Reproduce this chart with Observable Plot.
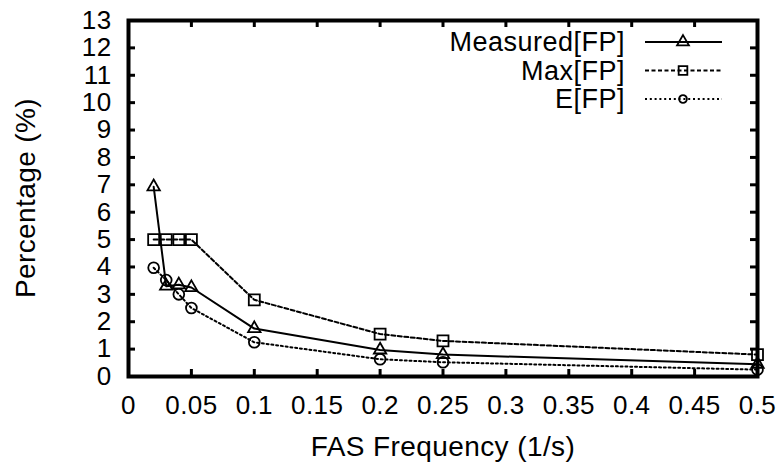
<!DOCTYPE html>
<html>
<head>
<meta charset="utf-8">
<script src="https://cdn.jsdelivr.net/npm/d3@7"></script>
<script src="https://cdn.jsdelivr.net/npm/@observablehq/plot@0.6"></script>
<style>
  html, body { margin: 0; padding: 0; background: #fff; }
  #chart { width: 784px; height: 468px; }
</style>
</head>
<body>
<div id="chart"></div>
<script>
// ---- data ----
const freq = [0.02, 0.03, 0.04, 0.05, 0.1, 0.2, 0.25, 0.5];
const measuredFP = [6.93, 3.3, 3.35, 3.25, 1.75, 0.97, 0.8, 0.45];
const maxFP = [5, 5, 5, 5, 2.8, 1.55, 1.3, 0.8];
const expectedFP = [3.97, 3.52, 3.0, 2.5, 1.25, 0.63, 0.52, 0.25];
const seriesNames = ["Measured[FP]", "Max[FP]", "E[FP]"];
const xTicks = [0, 0.05, 0.1, 0.15, 0.2, 0.25, 0.3, 0.35, 0.4, 0.45, 0.5];
const xTickLabels = ["0", "0.05", "0.1", "0.15", "0.2", "0.25", "0.3", "0.35", "0.4", "0.45", "0.5"];
const yTicks = [0, 1, 2, 3, 4, 5, 6, 7, 8, 9, 10, 11, 12, 13];
const yTickLabels = ["0", "1", "2", "3", "4", "5", "6", "7", "8", "9", "10", "11", "12", "13"];
const xLabel = "FAS Frequency (1/s)";
const yLabel = "Percentage (%)";

// ---- styles ----
const seriesValues = [measuredFP, maxFP, expectedFP];
const styles = [
  {dash: null, symbol: "triangle", r: 4.6, lr: 4.4},
  {dash: "4,2.5", symbol: "square", r: 6.2, lr: 4.9},
  {dash: "2,2.8", symbol: "circle", r: 5.4, lr: 3.9}
];
const rows = seriesNames.map((name, i) => freq.map((f, j) => ({series: name, idx: i, x: f, y: seriesValues[i][j]})));

const W = 784, H = 468, mL = 128, mR = 27, mT = 20, mB = 92;
const frameW = W - mL - mR, frameH = H - mT - mB;
const tickLen = 7;
const font = "'Liberation Sans', Arial, Helvetica, sans-serif";

function legendMark(index, scales, values, dim) {
  const g = d3.create("svg:g");
  const right = dim.width - dim.marginRight;
  seriesNames.forEach((name, i) => {
    const st = styles[i];
    const ly = dim.marginTop + 22 + i * 28.5;
    g.append("text")
      .attr("x", right - 132).attr("y", ly + 9)
      .attr("text-anchor", "end")
      .attr("font-size", 27).attr("letter-spacing", "0.5px")
      .attr("fill", "black")
      .text(name);
    g.append("line")
      .attr("x1", right - 112).attr("x2", right - 35)
      .attr("y1", ly).attr("y2", ly)
      .attr("stroke", "black").attr("stroke-width", 2)
      .attr("stroke-dasharray", st.dash);
    const symType = st.symbol === "triangle" ? d3.symbolTriangle : st.symbol === "square" ? d3.symbolSquare : d3.symbolCircle;
    g.append("path")
      .attr("transform", `translate(${right - 74},${ly})`)
      .attr("d", d3.symbol(symType, Math.PI * st.lr * st.lr)())
      .attr("fill", "none").attr("stroke", "black").attr("stroke-width", 1.8);
  });
  return g.node();
}

function yLabelMark(index, scales, values, dim) {
  const cy = dim.marginTop + (dim.height - dim.marginTop - dim.marginBottom) / 2;
  const cx = dim.marginLeft - 103;
  const t = d3.create("svg:text")
    .attr("transform", `translate(${cx},${cy}) rotate(-90)`)
    .attr("text-anchor", "middle")
    .attr("dy", "0.36em")
    .attr("font-size", 28)
    .attr("fill", "black")
    .text(yLabel);
  return t.node();
}

const marks = [];
// ticks (inward)
marks.push(Plot.tickX(xTicks, {x: d => d, insetTop: frameH - tickLen, stroke: "black", strokeWidth: 3}));
marks.push(Plot.tickX(xTicks, {x: d => d, insetBottom: frameH - tickLen, stroke: "black", strokeWidth: 3}));
marks.push(Plot.tickY(yTicks, {y: d => d, insetRight: frameW - tickLen, stroke: "black", strokeWidth: 3}));
marks.push(Plot.tickY(yTicks, {y: d => d, insetLeft: frameW - tickLen, stroke: "black", strokeWidth: 3}));
// tick labels
marks.push(Plot.text(xTicks, {x: d => d, text: (d, i) => xTickLabels[i], frameAnchor: "bottom", dy: 29, lineAnchor: "middle", fontSize: 26, fill: "black"}));
marks.push(Plot.text(yTicks, {y: d => d, text: (d, i) => yTickLabels[i], frameAnchor: "left", dx: -17, textAnchor: "end", lineAnchor: "middle", fontSize: 26, fill: "black"}));
// axis labels
marks.push(Plot.text([xLabel], {text: d => d, frameAnchor: "bottom", dy: 71, lineAnchor: "middle", fontSize: 28, fill: "black"}));
marks.push(yLabelMark);
// series
rows.forEach((data, i) => {
  const st = styles[i];
  marks.push(Plot.line(data, {x: "x", y: "y", stroke: "black", strokeWidth: 2, strokeDasharray: st.dash}));
  marks.push(Plot.dot(data, {x: "x", y: "y", symbol: () => st.symbol, r: st.r, fill: "none", stroke: "black", strokeWidth: 1.8}));
});
marks.push(legendMark);
marks.push(Plot.frame({stroke: "black", strokeWidth: 4}));

const chart = Plot.plot({
  width: W, height: H,
  marginLeft: mL, marginRight: mR, marginTop: mT, marginBottom: mB,
  style: {fontFamily: font, fontSize: "26px", color: "black", background: "white", letterSpacing: "0.4px"},
  x: {domain: [0, 0.5], axis: null},
  y: {domain: [0, 13], axis: null},
  symbol: {domain: ["triangle", "square", "circle"], range: ["triangle", "square", "circle"]},
  marks
});
document.getElementById("chart").appendChild(chart);
</script>
</body>
</html>
